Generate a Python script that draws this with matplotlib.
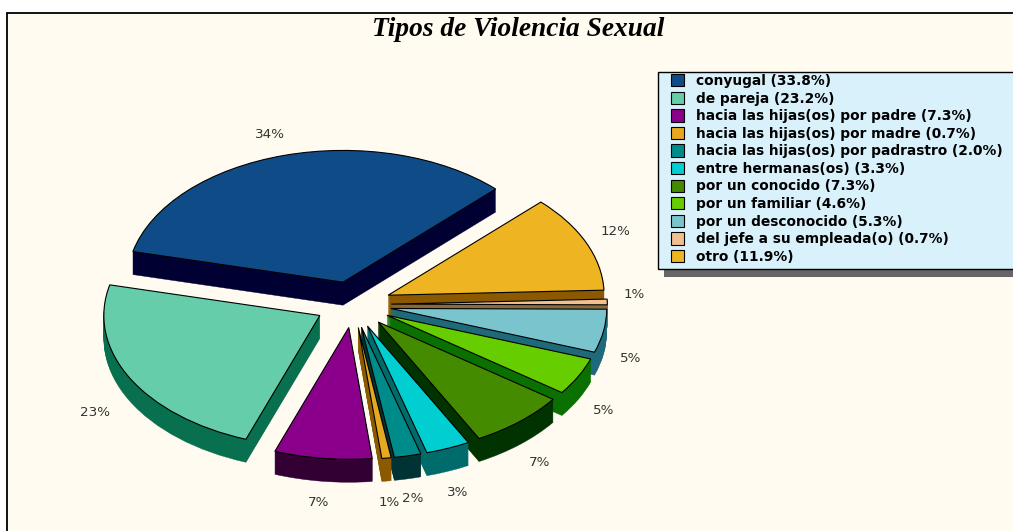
import matplotlib
matplotlib.use("Agg")
import matplotlib.pyplot as plt
import numpy as np
from matplotlib.patches import Patch, Rectangle

categories = [
    "conyugal", "de pareja", "hacia las hijas(os) por padre",
    "hacia las hijas(os) por madre", "hacia las hijas(os) por padrastro",
    "entre hermanas(os)", "por un conocido", "por un familiar",
    "por un desconocido", "del jefe a su empleada(o)", "otro",
]
values = [33.8, 23.2, 7.3, 0.7, 2.0, 3.3, 7.3, 4.6, 5.3, 0.7, 11.9]
top_colors = ["#0F4C87", "#66CDAA", "#8B008B", "#E6A820", "#008B8B", "#00CED1",
              "#458B00", "#66CD00", "#7AC5CD", "#F0C090", "#EEB422"]
side_colors = ["#000033", "#08704E", "#330033", "#8B5A00", "#003333", "#006B6B",
               "#003300", "#0A7000", "#1F6A7A", "#8B6B40", "#8B5A00"]
label_xy = [(270, 135), (95, 412), (319, 503), (389, 503), (413, 499), (458, 492),
            (540, 463), (604, 411), (631, 358), (634, 295), (615, 232)]

W, H = 1013, 531
squash = 0.61
depth = 23
radius = 216
cx, cy = 353.3, 304.5


def ypix(y):
    return (H - y) / squash


def box(x0, y0, x1, y1, **kw):
    # rectangle given in image pixels, y going down
    return Rectangle((x0 / W, 1 - y1 / H), (x1 - x0) / W, (y1 - y0) / H,
                     transform=fig.transFigure, **kw)


fig = plt.figure(figsize=(W / 100, H / 100), dpi=100, facecolor="white")
fig.add_artist(box(6.5, 12.5, W + 50, H + 50, fc="#FFFBF0", ec="black", lw=1.3, zorder=-3))
fig.add_artist(box(664, 80, W + 50, 277, fc="#666666", ec="none", zorder=-2))
fig.add_artist(box(658, 72, W + 50, 268.5, fc="#D9F1FB", ec="black", lw=1.0, zorder=-1))
ax = fig.add_axes([0, 0, 1, 1])

# paint slices from back to front so the near ones cover the far ones
mids = 45 + 3.6 * (np.cumsum(values) - np.array(values) / 2)
rank = np.argsort(np.argsort(-np.sin(np.radians(mids))))

for k in range(depth + 1):
    layer_colors = side_colors if k < depth else top_colors
    wedges, _ = ax.pie(values, colors=layer_colors, startangle=45, radius=radius,
                       explode=[38] * len(values),
                       center=(cx, ypix(cy + depth - k)))
    for i, w in enumerate(wedges):
        w.set_zorder(2 + rank[i] + k / (depth + 2))
        if k == depth:
            w.set_edgecolor("black")
            w.set_linewidth(0.8)
        else:
            w.set_edgecolor(side_colors[i])
            w.set_linewidth(0.3)

ax.set_aspect("auto")
ax.set_xlim(0, W)
ax.set_ylim(0, H / squash)

for v, (x, y) in zip(values, label_xy):
    ax.text(x, ypix(y), f"{v:.0f}%", ha="center", va="center", fontsize=9.7,
            color="#333333", zorder=20)

fig.text(518.5 / W, 1 - 29 / H, "Tipos de Violencia Sexual", ha="center", va="center",
         family="Liberation Serif", style="italic", weight="bold", fontsize=19.7)

handles = [Patch(fc=c, ec="black", lw=0.8) for c in top_colors]
labels = [f"{c} ({v:.1f}%)" for c, v in zip(categories, values)]
leg = ax.legend(handles, labels, loc="upper left", bbox_to_anchor=(671 / W, 1 - 74 / H),
                bbox_transform=fig.transFigure, frameon=False,
                prop={"family": "DejaVu Sans", "weight": "bold", "size": 9.9},
                labelspacing=0.26, handlelength=0.95, handleheight=1.0, handletextpad=0.87,
                borderpad=0, borderaxespad=0)
leg.set_zorder(30)

fig.savefig("out.png", dpi=100, facecolor=fig.get_facecolor())
